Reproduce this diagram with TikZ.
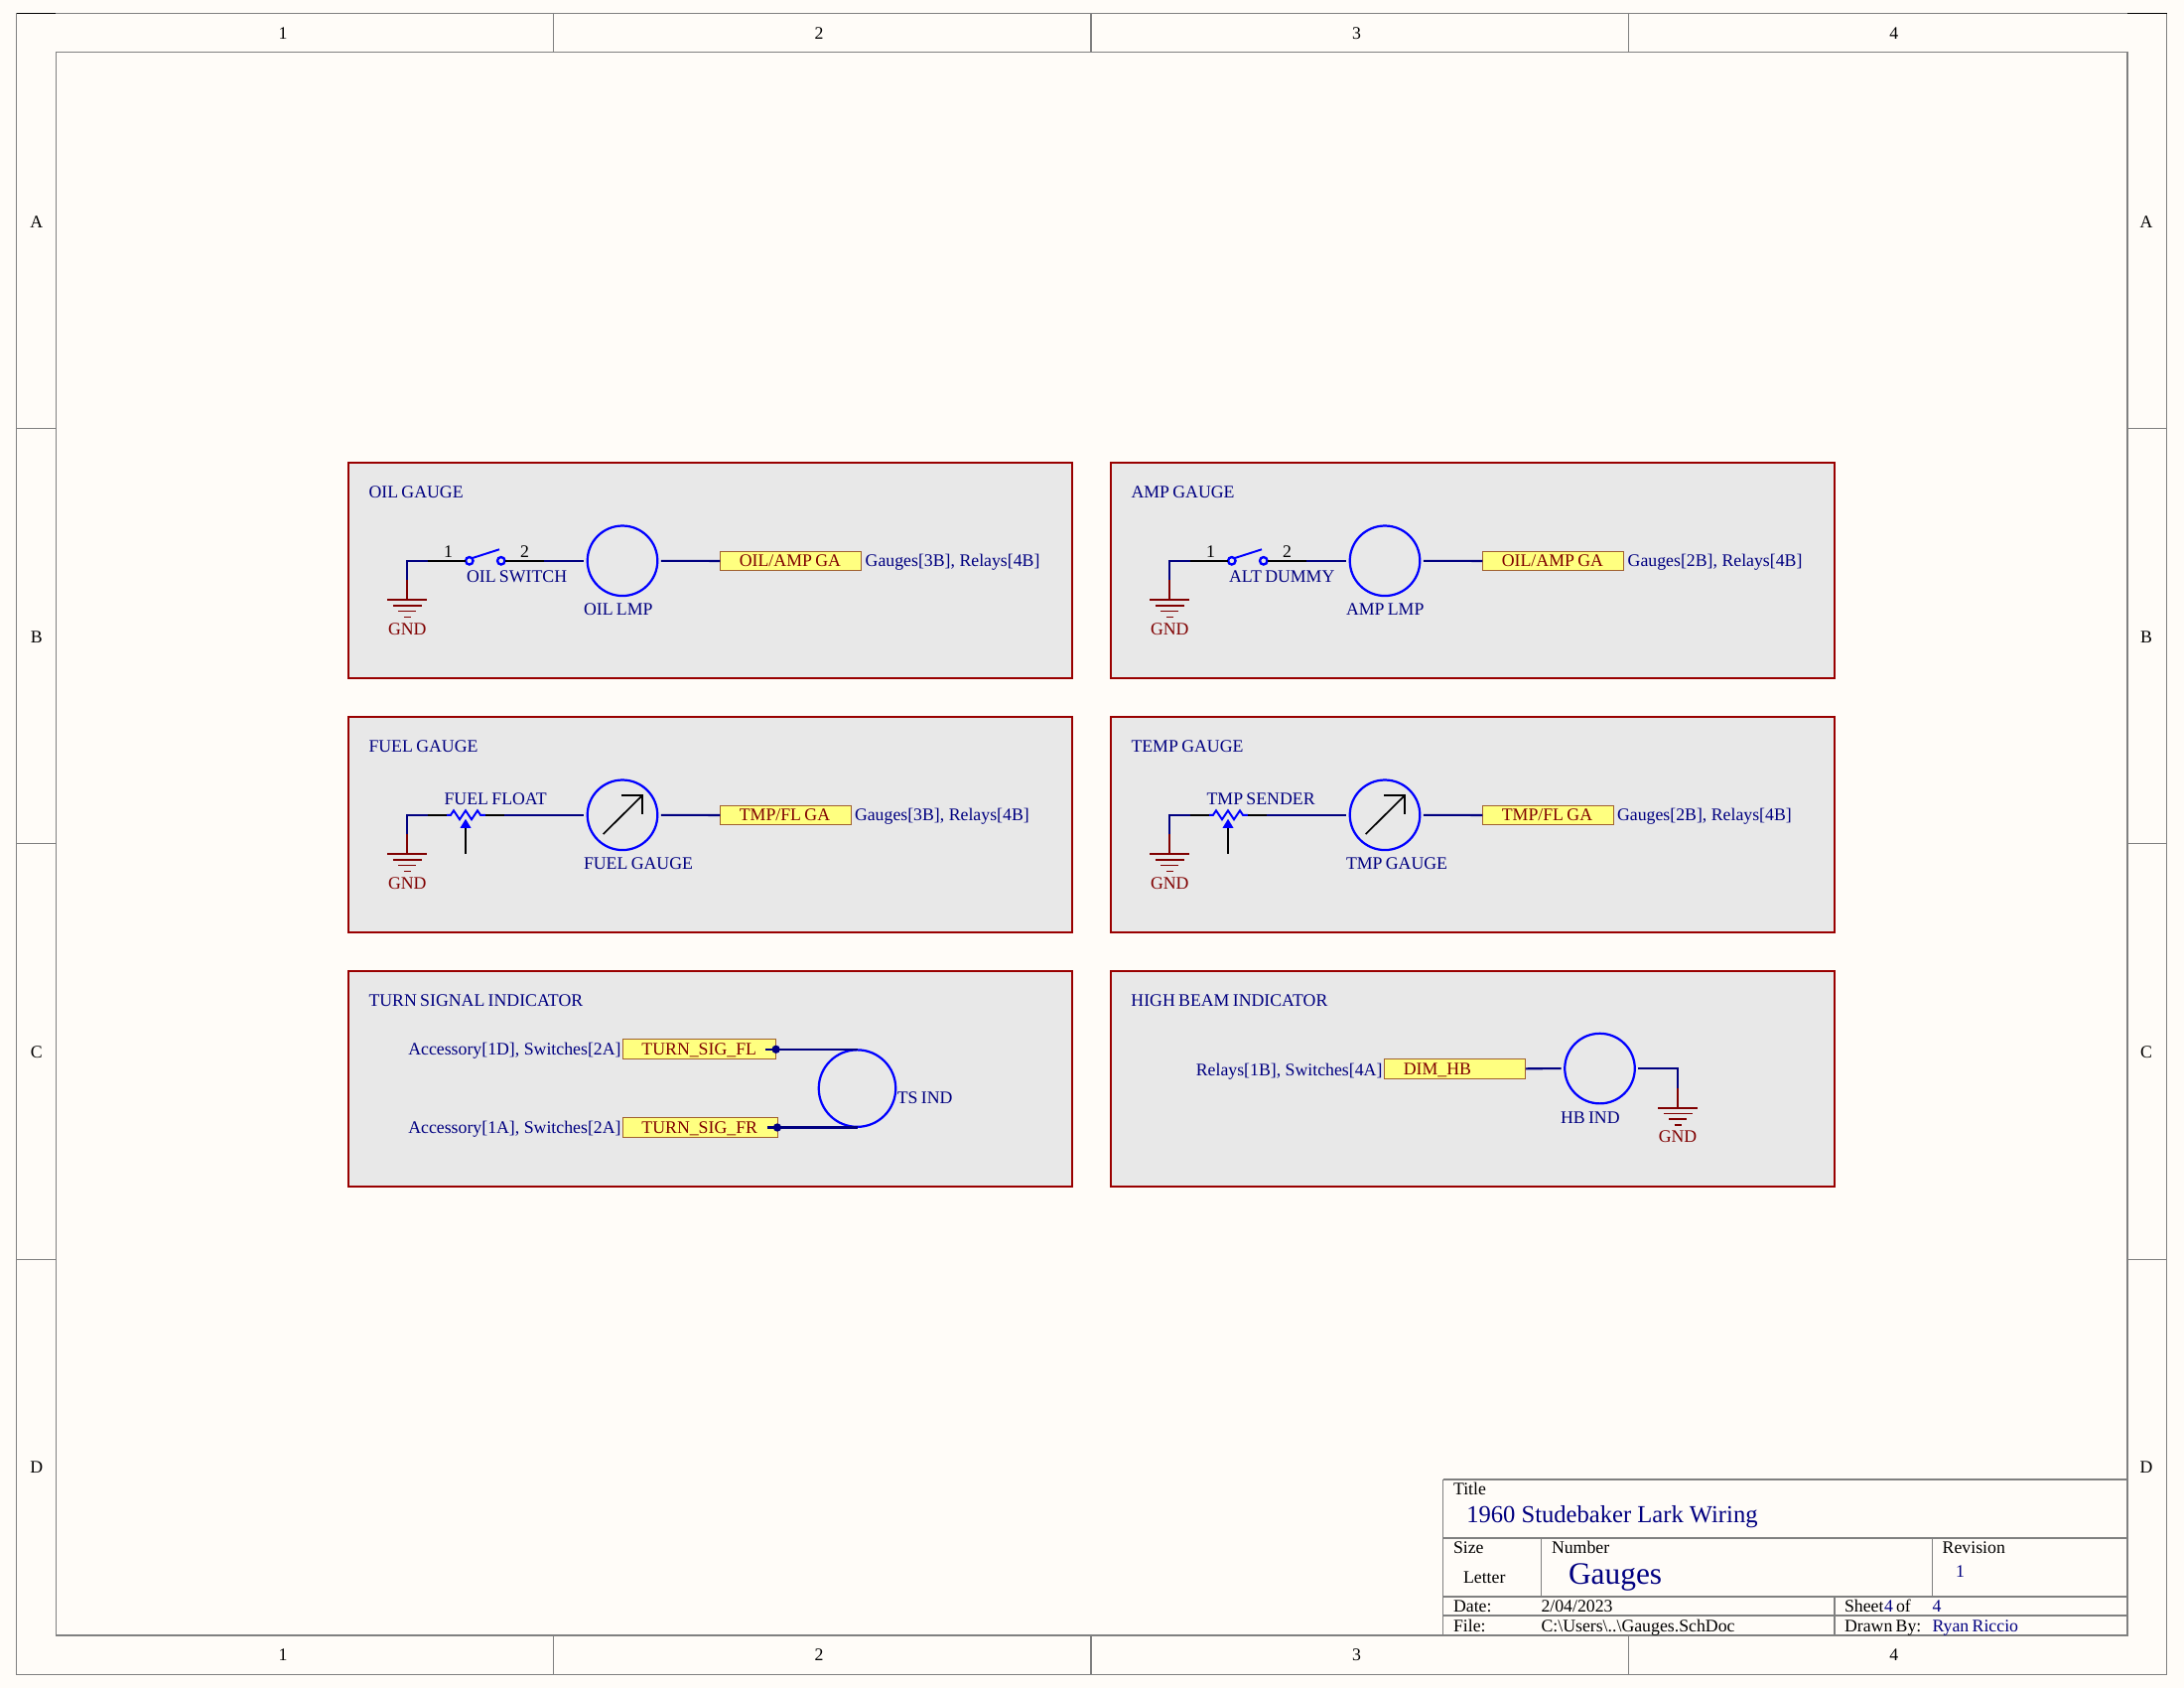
\documentclass[tikz,border=0pt]{standalone}
\usepackage{fontspec}
\usetikzlibrary{calc}
\setmainfont{Liberation Serif}
\newcommand{\ts}{\hspace{1.2pt}}
\definecolor{paper}{HTML}{FFFCF8}
\definecolor{panelgray}{HTML}{E8E8E8}
\definecolor{panelred}{HTML}{990000}
\definecolor{wireblue}{HTML}{000080}
\definecolor{partblue}{HTML}{0000FF}
\definecolor{gndred}{HTML}{800000}
\definecolor{portfill}{HTML}{FFFF80}
\definecolor{portline}{HTML}{A06030}
\definecolor{framegray}{HTML}{808080}
\tikzset{
  x=0.36pt,y=-0.36pt,
  every node/.style={inner sep=0pt,outer sep=0pt,font=\fontsize{6.4pt}{7pt}\selectfont},
  lbl/.style={anchor=base west,text=wireblue},
  blk/.style={anchor=base west,text=black},
  ctr/.style={anchor=base,text=black},
  gndtxt/.style={anchor=base,text=gndred},
  panelbox/.style={draw=panelred,fill=panelgray,line width=0.75pt,anchor=north west,minimum width=262.55pt,minimum height=78.1pt},
  lamp/.style={circle,draw=partblue,line width=0.8pt,minimum size=25.4pt,outer sep=1.3pt},
  swpin/.style={circle,draw=partblue,line width=0.85pt,minimum size=2.7pt},
  portbox/.style={draw=portline,fill=portfill,line width=0.35pt,anchor=west,inner xsep=7pt,inner ysep=0pt,text=gndred,align=left,text height=5.64pt,text depth=1.46pt,text width=#1},
  wire/.style={draw=wireblue,line width=0.75pt},
  pinline/.style={draw=black,line width=0.75pt},
  partline/.style={draw=partblue,line width=0.7pt},
  gndline/.style={draw=gndred,line width=0.7pt},
  needle/.style={draw=black,line width=0.6pt},
  junction/.style={circle,fill=wireblue,minimum size=3pt},
  fr/.style={draw=framegray,line width=0.5pt},
}
\newcommand{\gndsym}[3]{% id, x, y of the top bar
  \coordinate (#1) at (#2,#3);
  \draw[gndline] ($(#1)+(-20,0)$) -- ($(#1)+(20,0)$);
  \draw[gndline] ($(#1)+(-14.5,5.7)$) -- ($(#1)+(14.5,5.7)$);
  \draw[gndline] ($(#1)+(-9,11.4)$) -- ($(#1)+(9,11.4)$);
  \draw[gndline] ($(#1)+(-3.5,17.4)$) -- ($(#1)+(3.5,17.4)$);
  \node[gndtxt] (#1t) at ($(#1)+(0,35)$) {GND};
}
\newcommand{\oilpanel}[6]{% id, xshift, title, switch, lamp, port label
  \begin{scope}[shift={(#2,0)}]
  \node[panelbox] (#1box) at (350.7,465) {};
  \node[lbl] (#1title) at (371.5,500.7) {#3};
  \gndsym{#1g}{410.3}{603.3}
  \coordinate (#1c) at (410.3,564);
  \coordinate (#1ca) at (410.3,583);
  \coordinate (#1p1) at (430.6,564);
  \coordinate (#1p2) at (547.5,564);
  \node[swpin] (#1a) at (472.8,564) {};
  \node[swpin] (#1b) at (504.8,564) {};
  \coordinate (#1bl) at (503,552.5);
  \node[lamp] (#1l) at (627,564) {};
  \node[portbox=37.1pt] (#1port) at (725.4,564.2) {\mbox{OIL/AMP\ts GA}};
  \draw[gndline] (#1g) -- (#1ca);
  \draw[wire] (#1ca) -- (#1c) -- (#1p1);
  \draw[pinline] (#1p1) -- (#1a.west);
  \draw[partline] (#1a.north east) -- (#1bl);
  \draw[pinline] (#1b.east) -- (#1p2);
  \draw[wire] (#1p2) -- (#1l.west);
  \draw[wire] (#1l.east) -- (#1port.west);
  \node[ctr] (#1n1) at (451.5,561) {1};
  \node[ctr] (#1n2) at (528.5,561) {2};
  \node[lbl] (#1s) at (470,585.7) {#4};
  \node[lbl] (#1ln) at (588,618.3) {#5};
  \node[lbl] (#1x) at (871.7,570) {#6};
  \end{scope}
}
\newcommand{\fuelpanel}[6]{% id, xshift, title, pot, gauge, port label
  \begin{scope}[shift={(#2,256)}]
  \node[panelbox] (#1box) at (350.7,465) {};
  \node[lbl] (#1title) at (371.5,500.7) {#3};
  \gndsym{#1g}{410.3}{603.3}
  \coordinate (#1c) at (410.3,564);
  \coordinate (#1ca) at (410.3,583);
  \coordinate (#1p1) at (430.6,564);
  \coordinate (#1z1) at (450,564);
  \coordinate (#1z2) at (489,564);
  \coordinate (#1p2) at (508,564);
  \coordinate (#1ab) at (469,603);
  \coordinate (#1at) at (469,577);
  \coordinate (#1tip) at (469,568);
  \node[lamp] (#1l) at (627,564) {};
  \coordinate (#1n0) at (607.6,583.3);
  \coordinate (#1n1) at (647.3,544);
  \node[portbox=33.45pt] (#1port) at (725.4,564.2) {\mbox{TMP/FL\ts GA}};
  \draw[gndline] (#1g) -- (#1ca);
  \draw[wire] (#1ca) -- (#1c) -- (#1p1);
  \draw[pinline] (#1p1) -- (#1z1);
  \draw[partline,line join=miter] (#1z1) -- ++(4,0) -- ++(3,-4.5) -- ++(6,9) -- ++(6,-9) -- ++(6,9) -- ++(6,-9) -- ++(3,4.5) -- (#1z2);
  \draw[pinline] (#1z2) -- (#1p2);
  \draw[wire] (#1p2) -- (#1l.west);
  \draw[wire] (#1l.east) -- (#1port.west);
  \draw[pinline] (#1ab) -- (#1at);
  \fill[partblue] (#1tip) -- ($(#1at)+(-5.5,0)$) -- ($(#1at)+(5.5,0)$) -- cycle;
  \draw[needle] (#1n0) -- (#1n1);
  \draw[needle] ($(#1n1)+(-21.3,0)$) -- (#1n1) -- ($(#1n1)+(0,19.3)$);
  \node[lbl] (#1s) at (447.6,553.3) {#4};
  \node[lbl] (#1ln) at (588,619) {#5};
  \node[lbl] (#1x) at (861,570) {#6};
  \end{scope}
}
\begin{document}
\begin{tikzpicture}
\useasboundingbox (0,0) rectangle (2200,1700);
\fill[paper] (0,0) rectangle (2200,1700);
\begin{scope}[shift={(0,0.8)}]
% sheet frame
\draw[fr] (16.5,12.5) rectangle (2182.6,1685.7);
\draw[fr] (56.4,52) rectangle (2143,1646);
\draw[black,line width=0.5pt] (16.5,12.5) -- (56.4,12.5);
\draw[black,line width=0.5pt] (2143,12.5) -- (2182.6,12.5);
\foreach \cx in {557.6,1099,1640.7}{
  \draw[fr] (\cx,12.5) -- (\cx,52);
  \draw[fr] (\cx,1646) -- (\cx,1685.7);
}
\foreach \ry in {430.8,849,1267.4}{
  \draw[fr] (16.5,\ry) -- (56.4,\ry);
  \draw[fr] (2143,\ry) -- (2182.6,\ry);
}
\foreach \t/\cx in {1/285,2/825,3/1366.5,4/1907.8}{
  \node[ctr] (ct\t) at (\cx,39) {\t};
  \node[ctr] (cb\t) at (\cx,1671.7) {\t};
}
\foreach \t/\ry in {A/228.3,B/646.5,C/1064.5,D/1482.5}{
  \node[ctr] (rl\t) at (36.7,\ry) {\t};
  \node[ctr] (rr\t) at (2162,\ry) {\t};
}
% panels
\oilpanel{oil}{0}{OIL\ts GAUGE}{OIL\ts SWITCH}{OIL\ts LMP}{Gauges[3B], Relays[4B]}
\oilpanel{amp}{768}{AMP\ts GAUGE}{ALT\ts DUMMY}{AMP\ts LMP}{Gauges[2B], Relays[4B]}
\fuelpanel{fuel}{0}{FUEL\ts GAUGE}{FUEL\ts FLOAT}{FUEL\ts GAUGE}{Gauges[3B], Relays[4B]}
\fuelpanel{tmp}{768}{TEMP\ts GAUGE}{TMP\ts SENDER}{TMP\ts GAUGE}{Gauges[2B], Relays[4B]}
% turn signal panel
\node[panelbox] (tsbox) at (350.7,977) {};
\node[lbl] (tstitle) at (371.5,1012.7) {TURN\ts SIGNAL\ts INDICATOR};
\node[lbl] (tsa) at (411.3,1061.7) {Accessory[1D], Switches[2A]};
\node[lbl] (tsb) at (411.3,1140.7) {Accessory[1A], Switches[2A]};
\node[portbox=41.66pt] (tsfl) at (627,1055.9) {TURN\_SIG\_FL};
\node[portbox=42.16pt] (tsfr) at (627,1134.5) {TURN\_SIG\_FR};
\node[lamp,outer sep=0pt,minimum size=27.9pt] (tsl) at (863.5,1095.3) {};
\coordinate (tsw1) at (771.4,1056);
\coordinate (tsw2) at (772.8,1134.7);
\draw[wire] (tsw1) -- (tsw1 -| tsl.north);
\draw[wire] (tsw2) -- (tsw2 -| tsl.south);
\node[junction] (tsj1) at (781.6,1056) {};
\node[junction] (tsj2) at (783,1134.7) {};
\node[lbl] (tsn) at (903.8,1111) {TS\ts IND};
% high beam panel
\node[panelbox] (hbbox) at (1118.7,977) {};
\node[lbl] (hbtitle) at (1139.4,1012.7) {HIGH\ts BEAM\ts INDICATOR};
\node[lbl] (hba) at (1204.8,1082.3) {Relays[1B], Switches[4A]};
\node[portbox=37.3pt] (hbport) at (1394.4,1075.5) {DIM\_HB};
\node[lamp] (hbl) at (1611.5,1075.3) {};
\gndsym{hbg}{1690}{1115}
\coordinate (hbc) at (1690,1075.3);
\coordinate (hbca) at (1690,1095);
\draw[wire] (hbport.east) -- (hbl.west);
\draw[wire] (hbl.east) -- (hbc) -- (hbca);
\draw[gndline] (hbca) -- (hbg);
\node[lbl] (hbn) at (1572,1130.7) {HB\ts IND};
% title block
\draw[fr] (1453.6,1489.3) -- (2143,1489.3);
\draw[fr] (1453.6,1489.3) -- (1453.6,1646);
\draw[fr] (1453.6,1548) -- (2143,1548);
\draw[fr] (1453.6,1607) -- (2143,1607);
\draw[fr] (1453.6,1626) -- (2143,1626);
\draw[fr] (1552.5,1548) -- (1552.5,1607);
\draw[fr] (1946.5,1548) -- (1946.5,1607);
\draw[fr] (1848,1607) -- (1848,1646);
\node[blk] (tbt) at (1464,1505) {Title};
\node[lbl,font=\fontsize{8.85pt}{10pt}\selectfont] (tbtv) at (1477.3,1532.7) {1960 Studebaker Lark Wiring};
\node[blk] (tbs) at (1464,1564) {Size};
\node[blk] (tbn) at (1563,1564) {Number};
\node[blk] (tbr) at (1956.7,1564) {Revision};
\node[blk] (tbsv) at (1474,1593.3) {Letter};
\node[lbl,font=\fontsize{11.3pt}{12pt}\selectfont] (tbnv) at (1580,1595) {Gauges};
\node[lbl] (tbrv) at (1970,1587.3) {1};
\node[blk] (tbd) at (1464,1622.7) {Date:};
\node[blk] (tbdv) at (1552.5,1622.7) {2/04/2023};
\node[blk] (tbsh) at (1858,1622.7) {Sheet};
\node[lbl] (tbsh1) at (1898,1622.7) {4};
\node[blk] (tbof) at (1910,1622.7) {of};
\node[lbl] (tbsh2) at (1946.5,1622.7) {4};
\node[blk] (tbf) at (1464,1642.7) {File:};
\node[blk] (tbfv) at (1552.5,1642.7) {C:\textbackslash Users\textbackslash ..\textbackslash Gauges.SchDoc};
\node[blk] (tbdb) at (1858,1642.7) {Drawn\ts By:};
\node[lbl] (tbdbv) at (1946.5,1642.7) {Ryan\ts Riccio};
\end{scope}
\end{tikzpicture}
\end{document}
